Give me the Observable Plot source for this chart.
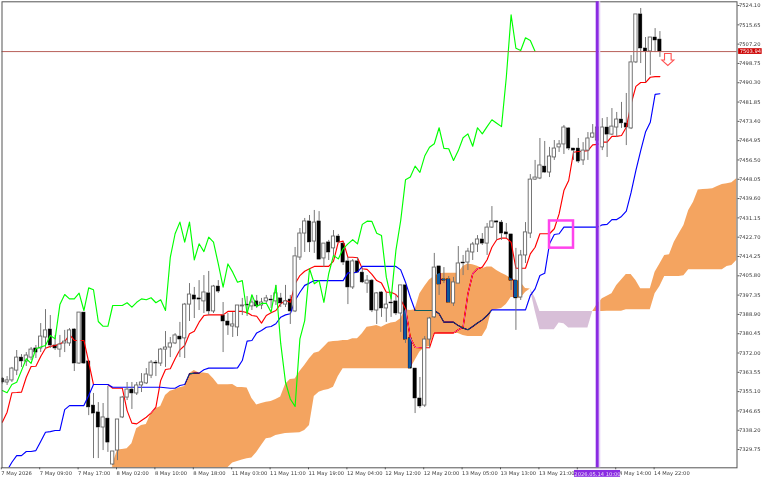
<!DOCTYPE html>
<html><head><meta charset="utf-8">
<script src="https://cdn.jsdelivr.net/npm/d3@7"></script>
<script src="https://cdn.jsdelivr.net/npm/@observablehq/plot@0.6"></script>
<style>html,body{margin:0;padding:0;background:#fff}</style>
</head><body>
<div id="chart"></div>
<script>
const opens=[7360.8,7359.1,7360.0,7364.3,7370.0,7368.3,7370.0,7374.0,7374.0,7378.8,
7382.3,7375.3,7373.5,7376.2,7376.2,7382.3,7367.4,7389.7,7368.3,7349.0,
7346.0,7339.4,7343.3,7323.2,7329.3,7343.8,7352.5,7356.0,7354.3,7357.8,
7358.7,7362.1,7367.8,7367.4,7373.5,7374.4,7376.2,7379.2,7378.4,7393.2,
7397.2,7395.9,7394.6,7398.1,7390.2,7401.1,7388.4,7385.8,7383.6,7383.2,
7392.4,7393.2,7392.4,7394.6,7392.8,7394.6,7395.4,7394.6,7395.9,7393.2,
7395.4,7390.2,7413.8,7424.3,7429.6,7420.8,7429.6,7413.4,7420.4,7417.8,
7423.0,7419.9,7412.1,7400.7,7412.1,7407.2,7402.4,7403.7,7390.6,7398.5,
7391.5,7394.1,7394.6,7389.3,7401.6,7378.4,7365.2,7352.1,7349.0,7377.9,
7387.6,7409.9,7404.2,7404.2,7393.7,7402.4,7411.6,7411.6,7416.0,7419.5,
7421.7,7419.9,7426.9,7429.6,7429.1,7424.8,7423.9,7403.7,7396.3,7414.7,
7424.3,7447.9,7448.4,7453.6,7451.0,7457.6,7462.0,7463.3,7470.3,7461.5,
7461.5,7456.3,7460.6,7466.3,7465.0,7462.0,7470.7,7467.6,7470.7,7474.2,
7472.5,7470.3,7499.2,7520.2,7505.3,7504.0,7510.1,7509.2];
const highs=[7361.3,7361.7,7365.7,7373.1,7371.3,7372.2,7374.4,7375.3,7384.9,7391.0,
7388.4,7379.7,7379.7,7381.9,7382.7,7382.7,7389.7,7389.7,7368.3,7354.3,
7350.3,7349.9,7357.4,7328.9,7342.9,7353.0,7359.1,7359.1,7359.1,7363.0,
7365.2,7368.7,7368.7,7374.0,7381.4,7378.8,7380.5,7385.4,7393.7,7402.4,
7400.7,7403.7,7405.9,7407.7,7401.6,7403.7,7394.1,7389.3,7389.7,7392.8,
7395.9,7396.7,7397.2,7397.2,7395.9,7397.2,7397.2,7401.6,7398.1,7401.6,
7397.2,7418.2,7426.5,7430.9,7432.2,7434.4,7433.9,7419.9,7421.3,7425.6,
7423.9,7420.4,7413.8,7412.9,7413.8,7409.0,7405.9,7404.2,7398.5,7398.9,
7398.1,7398.1,7397.2,7401.6,7402.4,7378.4,7365.2,7361.3,7379.2,7387.6,
7415.6,7409.9,7409.4,7405.5,7405.1,7418.6,7414.7,7417.8,7420.4,7423.4,
7424.3,7428.7,7436.1,7430.0,7430.0,7428.7,7423.9,7417.8,7416.9,7429.1,
7450.1,7456.3,7465.9,7464.6,7462.0,7465.0,7465.0,7471.6,7470.7,7461.5,
7465.9,7464.1,7468.5,7472.0,7473.8,7474.6,7475.1,7479.0,7477.3,7481.7,
7485.6,7502.2,7520.2,7522.8,7510.1,7510.1,7514.0,7512.7];
const lows=[7358.4,7357.8,7359.1,7362.1,7365.7,7366.1,7368.7,7369.6,7372.2,7373.5,
7374.0,7373.1,7370.0,7372.2,7374.9,7363.9,7367.0,7367.0,7344.6,7325.8,
7325.8,7329.3,7328.5,7322.8,7324.9,7343.3,7351.2,7347.3,7353.4,7354.7,
7358.2,7360.8,7361.7,7366.1,7365.7,7370.0,7375.7,7370.0,7369.6,7385.8,
7387.1,7390.6,7389.3,7388.4,7389.3,7398.1,7372.2,7379.7,7378.8,7379.2,
7388.4,7388.0,7390.6,7391.5,7391.0,7393.7,7391.5,7392.8,7391.9,7391.9,
7384.5,7389.7,7412.5,7416.0,7416.0,7415.6,7412.9,7409.4,7412.5,7414.7,
7419.9,7410.3,7393.2,7399.8,7406.8,7402.4,7398.1,7389.7,7384.5,7387.6,
7385.4,7387.6,7388.4,7381.0,7376.2,7364.8,7345.5,7347.7,7348.2,7374.0,
7387.1,7397.2,7402.4,7393.7,7392.4,7402.4,7405.9,7408.1,7412.5,7416.0,
7419.1,7414.7,7426.5,7421.3,7421.3,7422.1,7399.4,7381.9,7395.0,7411.2,
7422.1,7447.5,7447.9,7450.6,7448.8,7456.3,7459.8,7458.9,7460.6,7456.3,
7455.0,7454.1,7456.3,7465.9,7460.6,7460.6,7457.6,7467.2,7466.3,7470.3,
7462.8,7469.8,7498.7,7498.7,7490.4,7493.5,7503.5,7501.4];
const closes=[7359.1,7360.0,7365.2,7370.0,7368.3,7370.9,7373.5,7372.2,7379.2,7381.9,
7375.3,7374.0,7375.7,7377.0,7381.9,7367.4,7389.7,7367.4,7348.2,7345.5,
7339.4,7343.8,7332.8,7328.9,7342.9,7352.5,7356.0,7354.3,7357.8,7359.1,
7362.6,7367.8,7367.4,7373.5,7374.4,7376.2,7379.7,7377.9,7393.2,7397.6,
7395.4,7395.4,7398.5,7390.2,7401.1,7398.9,7385.8,7384.0,7384.5,7392.8,
7392.8,7392.8,7394.1,7392.4,7394.1,7395.9,7395.0,7398.1,7393.7,7394.6,
7390.2,7414.3,7424.3,7429.6,7420.4,7429.1,7412.9,7419.9,7416.0,7423.0,
7420.4,7411.6,7400.7,7412.1,7407.2,7402.9,7403.7,7390.6,7398.1,7391.5,
7393.2,7393.7,7389.3,7401.6,7377.9,7365.2,7352.1,7348.6,7377.9,7387.1,
7409.4,7402.0,7403.7,7394.1,7402.9,7411.2,7411.2,7416.4,7419.5,7421.7,
7419.9,7426.9,7429.6,7429.1,7424.3,7423.9,7403.7,7395.9,7414.7,7424.8,
7447.9,7448.8,7454.1,7451.0,7458.0,7461.5,7463.3,7470.7,7461.5,7460.6,
7455.8,7460.6,7465.9,7468.1,7470.7,7470.7,7467.6,7471.1,7474.2,7472.5,
7470.7,7499.2,7520.2,7505.3,7504.0,7510.1,7508.8,7503.9];

const tenkan=[7341.7,7346.1,7354.6,7354.7,7354.9,7361.4,7366.1,7366.2,7370.5,7374.1,
7374.9,7375.3,7376.0,7377.0,7380.0,7377.5,7377.5,7377.5,7368.0,7358.2,
7358.2,7358.2,7358.2,7356.6,7356.6,7356.6,7346.8,7341.3,7341.0,7342.5,
7343.9,7345.8,7348.3,7360.0,7364.8,7365.1,7369.5,7373.4,7375.3,7380.4,
7381.5,7385.5,7388.4,7388.7,7388.7,7388.7,7388.7,7390.2,7390.2,7390.2,
7390.2,7389.7,7388.4,7388.1,7385.1,7388.4,7389.6,7390.6,7393.5,7395.0,
7394.2,7402.3,7405.9,7407.8,7408.9,7409.9,7409.9,7409.9,7409.9,7412.2,
7420.5,7421.0,7413.9,7413.9,7413.7,7408.9,7408.6,7406.4,7403.7,7402.6,
7398.6,7398.6,7397.6,7395.3,7391.4,7378.7,7374.5,7374.3,7374.3,7374.3,
7380.7,7380.7,7380.7,7380.7,7380.7,7382.2,7383.3,7397.9,7406.7,7408.9,
7409.6,7412.8,7418.3,7421.6,7422.3,7422.3,7420.5,7409.1,7409.1,7409.1,
7415.4,7418.3,7424.2,7424.2,7424.2,7426.4,7432.9,7443.1,7447.5,7459.9,
7460.2,7460.3,7460.6,7463.1,7463.3,7464.3,7464.3,7466.8,7466.8,7467.2,
7470.8,7481.1,7488.7,7490.4,7490.4,7492.7,7493.0,7493.0];
const kijun=[7319.3,7320.6,7324.2,7327.1,7327.1,7328.9,7328.9,7329.3,7333.3,7337.3,
7337.6,7338.1,7338.1,7347.2,7349.0,7349.0,7349.0,7349.0,7353.4,7358.2,
7358.2,7358.2,7358.2,7357.0,7357.0,7357.0,7357.0,7357.0,7357.0,7357.0,
7357.0,7357.0,7357.0,7357.0,7356.8,7356.6,7356.6,7357.8,7358.2,7362.9,
7363.2,7363.2,7364.7,7365.4,7365.4,7365.4,7365.4,7365.4,7365.4,7365.5,
7368.7,7377.2,7377.5,7380.8,7381.9,7383.3,7383.6,7384.8,7387.7,7388.7,
7389.2,7395.0,7398.6,7401.6,7402.6,7403.7,7403.7,7403.7,7403.7,7403.7,
7403.7,7403.7,7407.1,7407.1,7407.4,7409.9,7409.9,7409.9,7409.9,7409.9,
7409.9,7409.9,7409.9,7408.4,7403.0,7396.4,7390.6,7390.6,7390.6,7390.6,
7390.6,7389.2,7385.5,7385.5,7385.5,7384.0,7382.9,7382.2,7383.6,7385.1,
7386.5,7388.4,7390.9,7390.9,7390.9,7390.9,7390.9,7390.9,7390.9,7390.9,
7397.2,7400.1,7405.9,7406.9,7419.8,7423.9,7424.2,7427.1,7427.1,7427.1,
7427.1,7427.1,7427.1,7427.1,7427.1,7428.1,7428.3,7430.4,7430.4,7431.8,
7434.1,7442.3,7451.9,7460.6,7468.7,7473.0,7485.2,7485.5];
const chikou=[7355.6,7354.6,7358.2,7359.2,7364.3,7369.5,7367.5,7373.9,7374.6,7375.3,
7379.7,7378.2,7393.2,7397.6,7395.7,7395.7,7398.2,7390.6,7400.5,7399.7,
7385.8,7383.7,7383.7,7392.8,7392.8,7392.8,7394.0,7392.1,7394.2,7395.7,
7395.3,7396.2,7394.0,7395.3,7390.6,7413.9,7424.2,7429.3,7420.5,7429.3,
7412.8,7419.8,7416.4,7422.7,7420.5,7411.0,7400.8,7411.0,7407.4,7403.0,
7403.7,7389.2,7397.5,7392.4,7393.7,7393.8,7389.9,7401.6,7376.2,7359.2,
7351.9,7348.6,7378.2,7386.2,7408.9,7402.3,7403.7,7394.2,7406.7,7414.7,
7413.2,7417.6,7419.8,7421.6,7419.8,7428.3,7429.7,7429.6,7424.4,7423.4,
7405.2,7395.7,7416.9,7430.0,7447.8,7449.0,7453.8,7451.1,7458.2,7462.1,
7463.6,7470.6,7461.6,7461.4,7456.3,7460.6,7466.2,7467.9,7462.5,7470.6,
7467.9,7471.1,7474.1,7472.6,7471.1,7492.7,7520.0,7505.4,7504.4,7510.0,
7508.8,7504.0];

const cloudStart=23;
const spanA=[7323.1,7329.6,7329.8,7330.1,7332.3,7338.8,7340.3,
7340.7,7345.4,7347.6,7348.6,7353.4,7355.3,7355.9,7356.8,7357.3,7362.9,
7364.3,7363.2,7363.2,7362.9,7360.7,7358.1,7358.1,7358.1,7358.2,7356.9,
7356.9,7356.7,7352.1,7349.3,7349.9,7350.4,7350.8,7351.7,7352.8,7358.2,
7360.4,7360.6,7363.9,7366.5,7369.5,7371.9,7372.4,7374.5,7376.7,7377.0,
7377.2,7377.5,7377.5,7378.2,7378.2,7380.4,7383.3,7383.6,7384.0,7383.3,
7384.4,7385.1,7385.5,7387.0,7390.9,7390.6,7390.9,7397.9,7401.1,7404.0,
7405.5,7406.7,7406.9,7406.9,7406.9,7406.9,7409.9,7411.0,7410.6,7410.0,
7408.9,7409.6,7409.6,7408.1,7406.9,7405.9,7404.5,7404.0,7403.0,7400.2,
7400.0,7390.5,7382.2,7382.2,7382.2,7382.2,7385.1,7384.8,7382.9,7382.9,
7382.9,7382.9,7382.9,7390.2,7393.5,7395.7,7396.9,7397.9,7401.6,7404.0,
7406.4,7406.4,7403.7,7400.1,7400.1,7400.1,7407.4,7411.0,7414.7,7415.0,
7420.5,7424.2,7427.8,7434.4,7438.0,7443.4,7443.6,7443.7,7443.9,7444.9,
7445.8,7446.1,7446.5,7448.3];
const spanB=[7321.8,7321.8,7321.8,7321.8,7321.8,7321.8,7321.8,
7321.8,7321.8,7321.8,7321.8,7321.8,7321.8,7321.8,7321.8,7321.8,7321.8,
7321.8,7321.8,7321.8,7321.8,7321.8,7321.8,7321.8,7321.8,7323.9,7324.5,
7325.2,7325.7,7326.1,7328.5,7331.5,7334.5,7334.8,7335.9,7336.3,7336.8,
7336.9,7337.0,7337.1,7338.1,7340.3,7353.0,7354.8,7355.6,7356.0,7357.0,
7361.7,7365.1,7365.1,7365.1,7365.1,7365.1,7365.1,7365.1,7365.1,7365.1,
7365.1,7365.1,7365.1,7365.1,7365.1,7365.1,7368.7,7372.4,7374.3,7374.9,
7380.7,7380.5,7380.5,7380.5,7380.5,7380.5,7379.7,7379.2,7379.2,7379.2,
7379.2,7382.7,7390.8,7391.0,7391.5,7393.2,7396.3,7396.3,7395.9,7398.5,
7400.0,7396.2,7390.2,7390.2,7390.2,7390.2,7390.2,7390.2,7390.2,7390.2,
7390.2,7390.2,7390.2,7390.2,7390.2,7390.2,7390.3,7390.3,7390.3,7390.3,
7390.9,7390.9,7390.9,7390.9,7390.9,7390.9,7397.9,7401.1,7405.5,7405.5,
7405.5,7405.5,7405.8,7408.4,7408.4,7408.4,7408.4,7408.4,7408.4,7408.4,
7408.4,7409.9,7410.3,7412.5];
// spanA is below spanB between these bars (indices of the bar series)
const twistStart=110, twistEnd=123;

const priceTicks=[7524.10,7515.65,7507.20,7498.75,7490.30,7481.85,7473.40,7464.95,7456.50,7448.05,7439.60,7431.15,
7422.70,7414.25,7405.80,7397.35,7388.90,7380.45,7372.00,7363.55,7355.10,7346.65,7338.20,7329.75];
const timeTicks=[0,8,16,24,32,40,48,56,64,72,80,88,96,104,112,120,128,136];
const timeLabels=["7 May 2026","7 May 09:00","7 May 17:00","8 May 02:00","8 May 10:00","8 May 18:00","11 May 03:00","11 May 11:00","11 May 19:00",
"12 May 04:00","12 May 12:00","12 May 20:00","13 May 05:00","13 May 13:00","13 May 21:00","","14 May 14:00","14 May 22:00"];
const currentPrice=[7503.94];
const cursorBar=124, cursorLabel="2026.05.14 10:00";
const boxBars=[114,119], boxPrices=[7417.9,7429.8];
const arrowPoint=[{i:138.65,p:7500.5}];

const bars=opens.map((o,i)=>({i,o,h:highs[i],l:lows[i],c:closes[i],top:Math.max(o,closes[i]),bot:Math.min(o,closes[i]),up:closes[i]>o}));
const bull=bars.filter(d=>d.up), bear=bars.filter(d=>!d.up);
const series=a=>a.map((p,i)=>({i,p}));
const cloud=spanA.map((a,k)=>({i:k+cloudStart,a,b:spanB[k]}));
const cloudL=cloud.filter(d=>d.i<=twistStart), cloudT=cloud.filter(d=>d.i>=twistStart&&d.i<=twistEnd), cloudR=cloud.filter(d=>d.i>=twistEnd);

const arrowSymbol={draw(ctx,size){const s=Math.sqrt(size/Math.PI);
  ctx.moveTo(-.55*s,-s);ctx.lineTo(.55*s,-s);ctx.lineTo(.55*s,.1*s);ctx.lineTo(s,.1*s);ctx.lineTo(0,s);ctx.lineTo(-s,.1*s);ctx.lineTo(-.55*s,.1*s);ctx.closePath();}};

const hw=0.34, axisInk="#3a3a3a", FS=5.2;
const chart=Plot.plot({
  width:768,height:480,marginLeft:1.5,marginRight:31.5,marginTop:1.3,marginBottom:12.7,
  style:{background:"#fff",fontFamily:"'DejaVu Sans',sans-serif",overflow:"visible"},
  x:{domain:[-0.0625,153.06],axis:null},
  y:{domain:[7321.76,7525.73],axis:null},
  marks:[
    Plot.frame({fill:"#fff",stroke:"none"}),
    Plot.rect(bear,{x1:d=>d.i-hw,x2:d=>d.i+hw,y1:"bot",y2:"top",fill:"#000",stroke:"#000",strokeWidth:0.5,clip:true}),
    Plot.line(series(tenkan),{x:"i",y:"p",stroke:"#f00",strokeWidth:1.15,clip:true}),
    Plot.line(series(kijun),{x:"i",y:"p",stroke:"#00f",strokeWidth:1.15,clip:true}),
    Plot.area(cloudL,{x1:"i",y1:"b",y2:"a",fill:"#0B5B9F",mixBlendMode:"difference"}),
    Plot.area(cloudT,{x1:"i",y1:"b",y2:"a",fill:"#274027",mixBlendMode:"difference"}),
    Plot.area(cloudR,{x1:"i",y1:"b",y2:"a",fill:"#0B5B9F",mixBlendMode:"difference"}),
    Plot.ruleX(bars,{x:"i",y1:"top",y2:"h",stroke:"#777",strokeWidth:1,clip:true}),
    Plot.ruleX(bars,{x:"i",y1:"bot",y2:"l",stroke:"#777",strokeWidth:1,clip:true}),
    Plot.rect(bull,{x1:d=>d.i-hw,x2:d=>d.i+hw,y1:"bot",y2:"top",fill:"#fff",stroke:"#666",strokeWidth:0.9,clip:true}),
    Plot.line(series(chikou),{x:"i",y:"p",stroke:"#0f0",strokeWidth:1.15,clip:true}),
    Plot.ruleY(currentPrice,{stroke:"#b8605a",strokeWidth:1}),
    Plot.rect([0],{x1:boxBars[0],x2:boxBars[1],y1:boxPrices[0],y2:boxPrices[1],fill:"none",stroke:"#ff44ec",strokeWidth:2.5}),
    Plot.dot(arrowPoint,{x:"i",y:"p",r:6,symbol:arrowSymbol,fill:"#fff",stroke:"#ff5050",strokeWidth:1.1}),
    Plot.frame({stroke:"#555",strokeWidth:1}),
    Plot.axisY({anchor:"right",ticks:priceTicks,tickFormat:d=>d.toFixed(2),tickSize:2,tickPadding:0,fontSize:FS,fill:axisInk,stroke:"#555",label:null}),
    Plot.axisX({anchor:"bottom",ticks:timeTicks,tickFormat:d=>timeLabels[timeTicks.indexOf(d)],tickSize:2,tickPadding:1.5,fontSize:FS,fill:axisInk,stroke:"#555",textAnchor:"start",dx:-1,label:null}),
    Plot.ruleX([cursorBar],{dx:1.9,stroke:"#e6cff7",strokeWidth:1.8}),
    Plot.ruleX([cursorBar],{dx:-0.3,stroke:"#8a2be2",strokeWidth:3}),
    Plot.rect([0],{x1:cursorBar-4.8,x2:cursorBar+4.8,y1:7317.6,y2:7320.6,fill:"#8a2be2"}),
    Plot.text([cursorLabel],{x:cursorBar,y:7319.1,text:d=>d,fill:"#e8dcf5",fontSize:FS}),
    Plot.rect([0],{x1:153.4,x2:158.3,y1:7502.7,y2:7505.2,fill:"#cc0000"}),
    Plot.text(currentPrice,{x:155.85,y:d=>d,text:d=>d.toFixed(2),fill:"#fff",fontSize:FS})
  ]
});
document.getElementById("chart").appendChild(chart);
</script>
</body></html>
